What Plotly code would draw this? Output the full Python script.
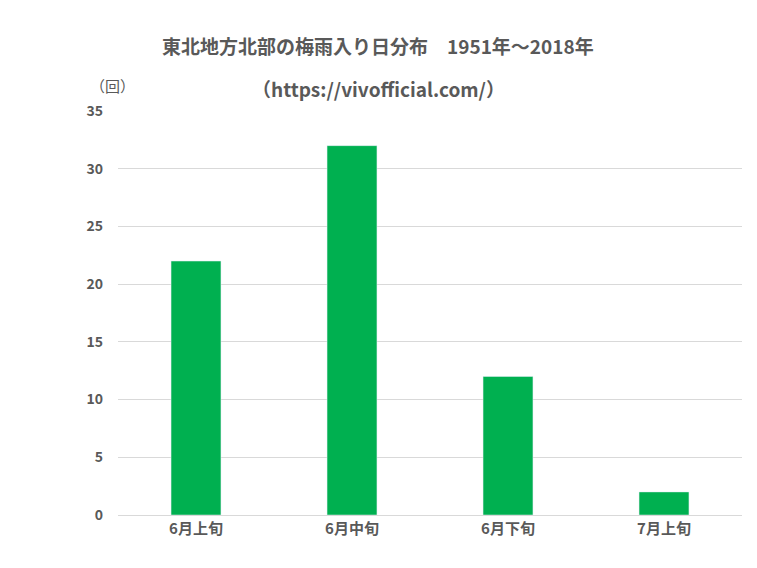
import plotly.graph_objects as go

categories = ["6月上旬", "6月中旬", "6月下旬", "7月上旬"]
values = [22, 32, 12, 2]
y_ticks = [0, 5, 10, 15, 20, 25, 30, 35]

# page body has 8px offset; figure placed accordingly
OFF = 8
W, H, L, R, T, B = 749, 560, 110, 15, 103, 53
pw, ph = W - L - R, H - T - B
font = "Noto Sans CJK JP"

def px(x):
    return (x - OFF - L) / pw

def py(y):
    return (H - B - (y - OFF)) / ph

fig = go.Figure(go.Bar(x=categories, y=values, marker_color="#00B050", width=0.32))
fig.update_layout(
    width=W, height=H,
    margin=dict(l=L, r=R, t=T, b=B),
    paper_bgcolor="white", plot_bgcolor="white",
    font=dict(family=font, color="#595959", size=14),
    showlegend=False,
    xaxis=dict(showgrid=False, showline=True, linecolor="#D9D9D9", ticks="",
               tickvals=categories, ticktext=[f"<b>{c}</b>" for c in categories],
               tickfont=dict(size=15, color="#595959", family=font)),
    yaxis=dict(range=[0, 35], tickvals=y_ticks, ticktext=[f"<b>{v}</b>" for v in y_ticks],
               gridcolor="#D9D9D9", zeroline=False,
               tickfont=dict(size=14, color="#595959", family=font), ticklabelstandoff=14),
    annotations=[
        dict(text="<b>東北地方北部の梅雨入り日分布　1951年～2018年</b>", x=px(378), y=py(30),
             xref="paper", yref="paper", showarrow=False, font=dict(size=19, color="#595959")),
        dict(text="<b>（https://vivofficial.com/）</b>", x=px(378), y=py(73),
             xref="paper", yref="paper", showarrow=False, font=dict(size=19, color="#595959")),
        dict(text="（回）", x=px(88), y=py(73), xref="paper", yref="paper", showarrow=False,
             font=dict(size=15, color="#595959")),
    ],
)
fig.write_html("out.html")
